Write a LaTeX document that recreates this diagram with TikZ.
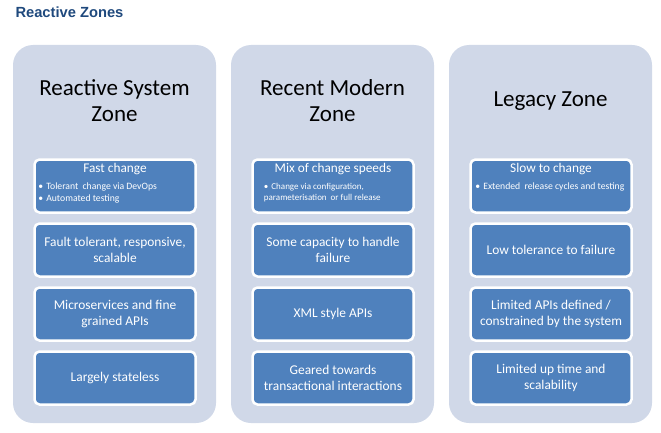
\documentclass[tikz,border=0pt]{standalone}
\usepackage{fontspec}
\setmainfont{Carlito}
\newfontfamily\headfont{Liberation Sans}
\usetikzlibrary{positioning}
\definecolor{zonefill}{RGB}{208,216,232}
\definecolor{cardfill}{RGB}{79,129,189}
\definecolor{headblue}{RGB}{31,73,125}
\begin{document}
\begin{tikzpicture}[x=1pt,y=-1pt,
    zone/.style={fill=zonefill, rounded corners=20pt, minimum width=203pt, minimum height=378pt, inner sep=0pt},
    zonetitle/.style={font=\fontsize{23}{26}\selectfont, align=center},
    card/.style={draw=white, line width=2.5pt, fill=cardfill, rounded corners=5pt, minimum width=161pt, minimum height=53pt, text=white, align=center, font=\fontsize{13.4}{16}\selectfont},
    cardhead/.style={text=white, inner sep=0pt, font=\fontsize{13.3}{15}\selectfont},
    bullets/.style={text=white, align=left, inner sep=0pt, anchor=north west, font=\fontsize{9.7}{12}\selectfont}]
  \useasboundingbox (0,0) rectangle (661,433);
  \node[anchor=west, text=headblue, font=\headfont\bfseries\fontsize{14.7}{17}\selectfont] (title) at (12,12) {Reactive Zones};
  % zones
  \node[zone] (reactive) at (114.5,234) {};
  \node[zone] (modern) at (332.5,234) {};
  \node[zone] (legacy) at (550.5,234) {};
  \node[zonetitle] (reactivetitle) at (114.5,101) {Reactive System\\Zone};
  \node[zonetitle] (moderntitle) at (332.5,101) {Recent Modern\\Zone};
  \node[zonetitle] (legacytitle) at (550.5,101) {Legacy Zone};
  % reactive system zone
  \node[card] (fast) at (115,186) {};
  \node[cardhead] (fasthead) at ([yshift=-11pt]fast.north) {Fast change};
  \node[bullets] (fastlist) at ([xshift=5pt,yshift=-24pt]fast.north west)
    {\textbullet\hspace{3pt}Tolerant\hspace{2pt} change via DevOps\\\textbullet\hspace{3pt}Automated testing};
  \node[card] (fault) at (115,250) {Fault tolerant, responsive,\\scalable};
  \node[card] (micro) at (115,314) {Microservices and fine\\grained APIs};
  \node[card] (stateless) at (115,378) {Largely stateless};
  % recent modern zone
  \node[card] (mix) at (333,186) {};
  \node[cardhead] (mixhead) at ([yshift=-11pt]mix.north) {Mix of change speeds};
  \node[bullets, font=\fontsize{9}{11}\selectfont] (mixlist) at ([xshift=12.5pt,yshift=-25pt]mix.north west)
    {\textbullet\hspace{3pt}Change via configuration,\\parameterisation\hspace{2pt} or full release};
  \node[card] (capacity) at (333,250) {Some capacity to handle\\failure};
  \node[card] (xml) at (333,314) {XML style APIs};
  \node[card] (geared) at (333,378) {Geared towards\\transactional interactions};
  % legacy zone
  \node[card] (slow) at (551,186) {};
  \node[cardhead] (slowhead) at ([yshift=-11pt]slow.north) {Slow to change};
  \node[bullets] (slowlist) at ([xshift=6pt,yshift=-24pt]slow.north west)
    {\textbullet\hspace{3pt}Extended\hspace{2pt} release cycles and testing};
  \node[card] (tolerance) at (551,250) {Low tolerance to failure};
  \node[card] (limited) at (551,314) {Limited APIs defined /\\constrained by the system};
  \node[card] (uptime) at (551,378) {Limited up time and\\scalability};
\end{tikzpicture}
\end{document}
